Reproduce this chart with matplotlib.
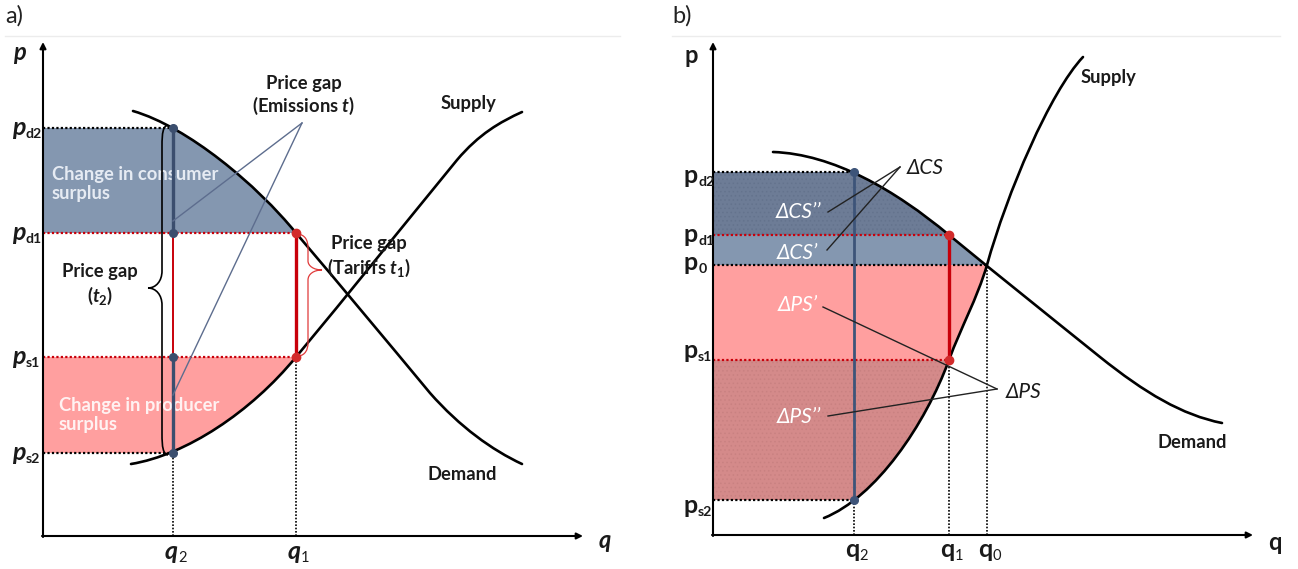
import matplotlib
matplotlib.use("Agg")
import matplotlib.pyplot as plt
from matplotlib.path import Path
from matplotlib.patches import PathPatch, Rectangle

plt.rcParams["font.family"] = ["Lato", "DejaVu Sans"]
plt.rcParams["mathtext.fontset"] = "custom"
plt.rcParams["mathtext.rm"] = "Lato:bold"
plt.rcParams["mathtext.it"] = "Lato:bold:italic"
plt.rcParams["mathtext.bf"] = "Lato:bold"
plt.rcParams["hatch.linewidth"] = 0.6

# ---- panel a: quantities / prices (arbitrary units) ----
a_q_labels = ["2", "1"]
a_q = [13.0, 25.3]
a_p_labels = ["d2", "d1", "s1", "s2"]
a_p = [40.8, 30.3, 17.9, 8.3]
# curves as cubic bezier points: anchor, ctrl, ctrl, anchor, ...
a_demand = [(9.0, 42.5), (14.5, 40.9), (21.4, 35.1), (25.3, 30.3),
            (29.8, 25.0), (34.3, 19.6), (38.7, 14.3),
            (41.7, 10.9), (44.9, 8.6), (47.9, 7.2)]
a_supply = [(8.8, 7.2), (14.3, 8.1), (20.8, 12.4), (25.3, 17.9),
            (30.7, 24.4), (36.0, 31.0), (41.4, 37.6),
            (43.6, 40.2), (45.7, 41.4), (47.9, 42.4)]

# ---- panel b ----
b_q_labels = ["2", "1", "0"]
b_q = [14.1, 23.6, 27.4]
b_p_labels = ["d2", "d1", "0", "s1", "s2"]
b_p = [36.3, 30.0, 27.0, 17.5, 3.5]
b_demand = [(6.0, 38.3), (12.0, 38.1), (18.2, 34.5), (23.6, 30.0),
            (28.6, 25.9), (33.6, 21.9), (38.7, 17.8),
            (43.2, 14.2), (46.9, 12.0), (50.9, 11.2)]
b_supply = [(11.1, 1.7), (16.3, 3.8), (21.2, 11.0), (23.6, 17.5),
            (24.8, 20.8), (26.4, 23.6), (27.4, 27.0),
            (29.4, 34.2), (33.7, 44.3), (37.0, 47.8)]

# brace shapes (panel a)
black_brace = [(12.5, 41.1), (12.0, 41.0), (11.9, 40.3), (11.9, 39.0),
               (11.9, 26.5),
               (11.9, 25.5), (11.3, 24.8), (10.5, 24.8),
               (11.3, 24.8), (11.9, 24.1), (11.9, 23.1),
               (11.9, 10.2),
               (11.9, 8.9), (12.0, 8.2), (12.5, 8.1)]
red_brace = [(25.5, 30.2), (26.2, 30.1), (26.5, 29.6), (26.5, 28.8),
             (26.5, 27.5),
             (26.5, 27.0), (27.1, 26.6), (27.9, 26.6),
             (27.1, 26.6), (26.5, 26.2), (26.5, 25.6),
             (26.5, 19.3),
             (26.5, 18.6), (26.2, 18.1), (25.6, 18.0)]
BRACE_CODES = [Path.MOVETO] + [Path.CURVE4] * 3 + [Path.LINETO] + [Path.CURVE4] * 6 \
    + [Path.LINETO] + [Path.CURVE4] * 3

# pointer lines: apex first, then the two ends
a_pointer = [(25.9, 41.3), (13.0, 31.5), (13.0, 14.1)]
b_pointer_cs = [(18.7, 36.8), (11.5, 32.3), (11.4, 28.5)]
b_pointer_ps = [(28.4, 14.6), (11.0, 22.8), (11.5, 11.9)]

CS_BLUE = "#8497b0"
CS_DARK = "#6d7c96"
PS_PINK = "#ff9f9f"
PS_DARK = "#d48a8a"
LINE_BLUE = "#3b4e6e"
RED = "#c8000a"
TXT = "#1a1a1a"
FS = 13.2


def bezier(pts):
    return Path(pts, [Path.MOVETO] + [Path.CURVE4] * (len(pts) - 1))


def left_of(pts):
    # region between a curve and the price axis
    verts = list(pts) + [(0, pts[-1][1]), (0, pts[0][1]), pts[0]]
    codes = [Path.MOVETO] + [Path.CURVE4] * (len(pts) - 1) + [Path.LINETO, Path.LINETO, Path.CLOSEPOLY]
    return Path(verts, codes)


def band(ax, curve, lo, hi, color, hatch=None, hcolor=None):
    clip = PathPatch(left_of(curve), transform=ax.transData)
    r = Rectangle((0, lo), 60, hi - lo, facecolor=color, edgecolor=hcolor or color,
                  lw=0, hatch=hatch, zorder=1)
    ax.add_patch(r)
    r.set_clip_path(clip)


def curve(ax, pts):
    ax.add_patch(PathPatch(bezier(pts), fill=False, lw=1.9, edgecolor="black",
                           capstyle="round", zorder=4))


def dotted(ax, xs, ys, color, lw=1.6):
    ax.plot(xs, ys, color=color, lw=lw, ls=(0, (1, 1)), zorder=2, solid_capstyle="butt")


def sub_label(ax, x, y, main, sub, style, fs=18, fs_sub=10.2, sub_weight="bold"):
    ax.text(x, y, main, ha="right", va="baseline", fontsize=fs, fontweight="bold",
            fontstyle=style, color=TXT, zorder=6)
    ax.annotate(sub, (x, y), xytext=(0.1, -2.2), textcoords="offset points", ha="left",
                va="baseline", fontsize=fs_sub, fontweight=sub_weight, color=TXT, zorder=6)


def axes_arrows(ax, xmax, ymax):
    kw = dict(arrowstyle="-|>", lw=1.5, color="black", mutation_scale=9, shrinkA=0, shrinkB=0)
    ax.annotate("", xy=(0, ymax), xytext=(0, -0.1), arrowprops=kw, zorder=5)
    ax.annotate("", xy=(xmax, 0), xytext=(-0.1, 0), arrowprops=kw, zorder=5)


fig = plt.figure(figsize=(12.98, 5.69), dpi=100)
axa = fig.add_axes([0, 0, 650 / 1298, 1])
axb = fig.add_axes([650 / 1298, 0, 648 / 1298, 1])
axa.set_xlim(-4.3, 60.7)
axa.set_ylim(-3.3, 53.6)
axb.set_xlim(-6.3, 58.5)
axb.set_ylim(-3.4, 53.5)
for ax in (axa, axb):
    ax.axis("off")

fig.text(5 / 1298, 1 - 16 / 569, "a)", ha="left", va="center", fontsize=17, color="#222222")
fig.text(672 / 1298, 1 - 16 / 569, "b)", ha="left", va="center", fontsize=17, color="#222222")
axa.plot([-3.8, 57.7], [50.0, 50.0], color="#ececec", lw=1, clip_on=False)
axb.plot([-4.1, 56.7], [49.9, 49.9], color="#ececec", lw=1, clip_on=False)

# ================= panel a =================
q2, q1 = a_q
pd2, pd1, ps1, ps2 = a_p
band(axa, a_demand, pd1, pd2, CS_BLUE)
band(axa, a_supply, ps2, ps1, PS_PINK)

dotted(axa, [0, q2], [pd2, pd2], "black")
dotted(axa, [0, q1], [pd1, pd1], RED)
dotted(axa, [0, q1], [ps1, ps1], RED)
dotted(axa, [0, q2], [ps2, ps2], "black")
dotted(axa, [q2, q2], [0, ps2], "black", lw=1.2)
dotted(axa, [q1, q1], [0, ps1], "black", lw=1.2)

curve(axa, a_demand)
curve(axa, a_supply)
axes_arrows(axa, 54.0, 49.4)

axa.text(0.9, 35.2, "Change in consumer\nsurplus", ha="left", va="center", fontsize=FS,
         fontweight="bold", color="#e6ebf3", linespacing=1.2, zorder=3)
axa.text(1.6, 12.1, "Change in producer\nsurplus", ha="left", va="center", fontsize=FS,
         fontweight="bold", color="#fff2f2", linespacing=1.2, zorder=3)

axa.plot([q2, q2], [pd2, pd1], color=LINE_BLUE, lw=2.4, zorder=5)
axa.plot([q2, q2], [pd1, ps1], color=RED, lw=1.4, zorder=5)
axa.plot([q2, q2], [ps1, ps2], color=LINE_BLUE, lw=2.4, zorder=5)
axa.plot([q2] * 4, a_p, "o", color=LINE_BLUE, ms=5.5, zorder=6)
axa.plot([q1, q1], [pd1, ps1], color=RED, lw=2.4, zorder=5)
axa.plot([q1, q1], [pd1, ps1], "o", color="#d22b2b", ms=6, zorder=6)

axa.add_patch(PathPatch(Path(black_brace, BRACE_CODES), fill=False, lw=1.2,
                        edgecolor="black", zorder=5))
axa.add_patch(PathPatch(Path(red_brace, BRACE_CODES), fill=False, lw=0.9,
                        edgecolor="#e03a3a", zorder=5))

apex = a_pointer[0]
for end in a_pointer[1:]:
    axa.plot([apex[0], end[0]], [apex[1], end[1]], color="#5d6d8e", lw=1.0, zorder=5)

bold = dict(ha="center", va="center", fontsize=FS, fontweight="bold", color=TXT, zorder=6)
axa.text(5.7, 26.5, "Price gap", **bold)
axa.text(5.7, 24.0, "($t_2$)", **bold)
axa.text(26.1, 45.3, "Price gap", **bold)
axa.text(26.1, 43.0, "(Emissions $t$)", **bold)
axa.text(32.6, 29.3, "Price gap", **bold)
axa.text(32.6, 26.8, "(Tariffs $t_1$)", **bold)
axa.text(42.5, 43.3, "Supply", **bold)
axa.text(41.9, 6.1, "Demand", **bold)

for name, p in zip(a_p_labels, a_p):
    sub_label(axa, -1.75, p - 0.7, "p", name, "italic")
for name, q in zip(a_q_labels, a_q):
    sub_label(axa, q + 0.5, -2.3, "q", name, "italic", sub_weight="normal", fs_sub=10.5)
axa.text(-2.4, 47.6, "p", ha="center", va="baseline", fontsize=17, fontweight="bold",
         fontstyle="italic", color=TXT)
axa.text(56.2, -1.2, "q", ha="center", va="baseline", fontsize=17, fontweight="bold",
         fontstyle="italic", color=TXT)

# ================= panel b =================
q2, q1, q0 = b_q
pd2, pd1, p0, ps1, ps2 = b_p
band(axb, b_demand, pd1, pd2, CS_DARK, hatch="....", hcolor="#64738d")
band(axb, b_demand, p0, pd1, CS_BLUE)
band(axb, b_supply, ps1, p0, PS_PINK)
band(axb, b_supply, ps2, ps1, PS_DARK, hatch="....", hcolor="#c98181")

dotted(axb, [0, q2], [pd2, pd2], "black")
dotted(axb, [0, q1], [pd1, pd1], RED)
dotted(axb, [0, q0], [p0, p0], "black")
dotted(axb, [0, q1], [ps1, ps1], RED)
dotted(axb, [0, q2], [ps2, ps2], "black")
dotted(axb, [q2, q2], [0, ps2], "black", lw=1.2)
dotted(axb, [q1, q1], [0, ps1], "black", lw=1.2)
dotted(axb, [q0, q0], [0, p0], "black", lw=1.2)

curve(axb, b_demand)
curve(axb, b_supply)
axes_arrows(axb, 54.0, 49.3)

axb.plot([q2, q2], [pd2, ps2], color="#3d5479", lw=2.0, zorder=5)
axb.plot([q2, q2], [pd2, ps2], "o", color="#3d5479", ms=5.5, zorder=6)
axb.plot([q1, q1], [pd1, ps1], color=RED, lw=2.4, zorder=5)
axb.plot([q1, q1], [pd1, ps1], "o", color="#d22b2b", ms=6, zorder=6)

for ptr in (b_pointer_cs, b_pointer_ps):
    apex = ptr[0]
    for end in ptr[1:]:
        axb.plot([apex[0], end[0]], [apex[1], end[1]], color="#222222", lw=1.0, zorder=5)

for txt, x, y, col in [("ΔCS", 21.2, 36.7, TXT), ("ΔCS’’", 8.5, 32.3, "white"),
                       ("ΔCS’", 8.4, 28.2, "white"), ("ΔPS’", 8.5, 23.0, "white"),
                       ("ΔPS’’", 8.6, 11.8, "white"), ("ΔPS", 31.1, 14.3, TXT)]:
    axb.text(x, y, txt, ha="center", va="center", fontsize=15, fontstyle="italic",
             color=col, zorder=6)
axb.text(39.5, 45.8, "Supply", **bold)
axb.text(47.9, 9.2, "Demand", **bold)

b_label_dy = [-1.1, -0.7, -0.5, 0.2, -1.3]
for name, p, dy in zip(b_p_labels, b_p, b_label_dy):
    sub_label(axb, -1.5, p + dy, "p", name, "normal")
for name, q in zip(b_q_labels, b_q):
    sub_label(axb, q + 0.55, -2.2, "q", name, "normal", sub_weight="normal", fs_sub=10.5)
axb.text(-2.2, 47.2, "p", ha="center", va="baseline", fontsize=17, fontweight="bold", color=TXT)
axb.text(56.2, -1.5, "q", ha="center", va="baseline", fontsize=17, fontweight="bold", color=TXT)

fig.savefig("out.png", dpi=100)
